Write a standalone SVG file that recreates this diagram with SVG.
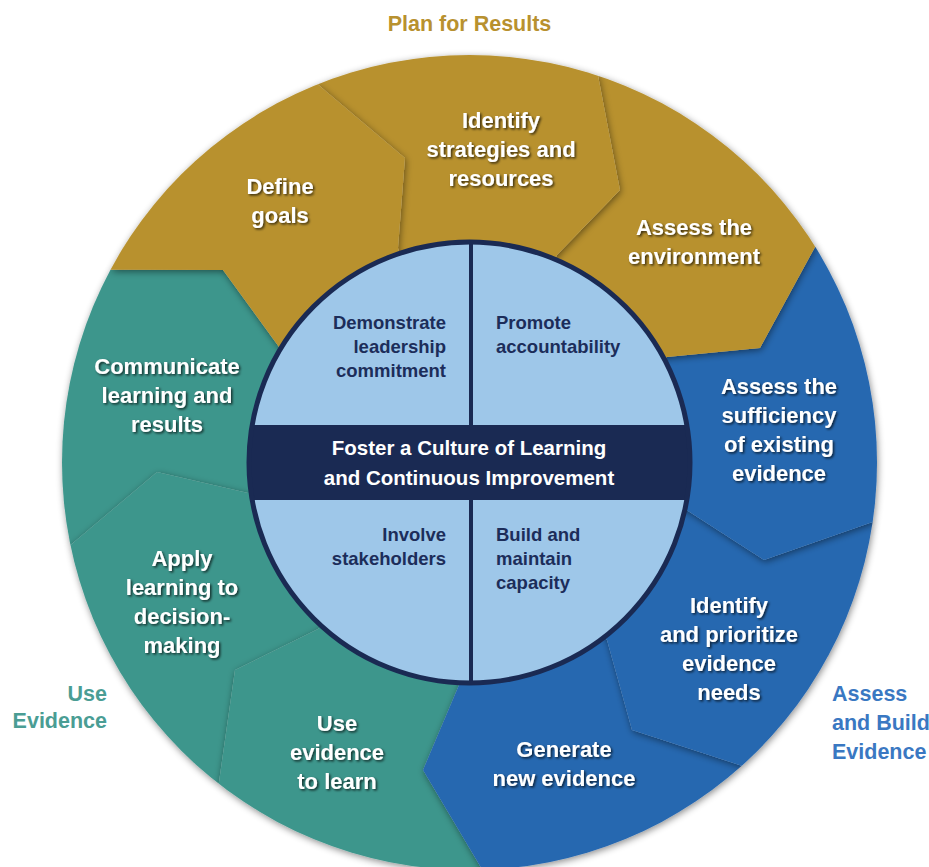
<svg xmlns="http://www.w3.org/2000/svg" width="929" height="867" viewBox="0 0 929 867">
  <style>
    .seg-label { font-family: "Liberation Sans", Arial, sans-serif; font-weight: bold; font-size: 22px; fill: #ffffff; text-anchor: middle; filter: url(#textShadow); }
    .core-label { font-family: "Liberation Sans", Arial, sans-serif; font-weight: bold; font-size: 18.5px; fill: #1c2d5a; }
    .band-label { font-family: "Liberation Sans", Arial, sans-serif; font-weight: bold; font-size: 20.5px; fill: #ffffff; text-anchor: middle; }
    .phase-label { font-family: "Liberation Sans", Arial, sans-serif; font-weight: bold; font-size: 21.5px; }
    .gold { fill: #b8912f; }
    .teal { fill: #3e968c; }
    .blue { fill: #2567b0; }
  </style>
  <defs>
    <clipPath id="ring">
      <circle cx="469.5" cy="462.5" r="407.5"/>
    </clipPath>
    <clipPath id="core">
      <circle cx="469.5" cy="462.5" r="220.5"/>
    </clipPath>
    <filter id="segShadow" x="-30%" y="-30%" width="160%" height="160%">
      <feDropShadow dx="1" dy="2" stdDeviation="3.5" flood-color="#000000" flood-opacity="0.45"/>
    </filter>
    <filter id="textShadow" x="-10%" y="-30%" width="120%" height="160%">
      <feDropShadow dx="1.5" dy="1.5" stdDeviation="1" flood-color="#000000" flood-opacity="0.7"/>
    </filter>
  </defs>

  <!-- phase titles -->
  <text class="phase-label" x="469.5" y="31" text-anchor="middle" fill="#b8912f" font-size="22">Plan for Results</text>
  <text class="phase-label" x="107" y="701" text-anchor="end" fill="#4a9d94">Use</text>
  <text class="phase-label" x="107" y="728" text-anchor="end" fill="#4a9d94">Evidence</text>
  <text class="phase-label" x="832" y="701" fill="#3a78c2">Assess</text>
  <text class="phase-label" x="832" y="730" fill="#3a78c2">and Build</text>
  <text class="phase-label" x="832" y="759" fill="#3a78c2">Evidence</text>

  <!-- outer ring segments, lowest first; each one casts a soft shadow on the one beneath -->
  <g id="communicate" filter="url(#segShadow)">
    <path class="teal" clip-path="url(#ring)" d="M469.5 462.5 L248 493 L157 472 L70.5 545.1 L-118 584.1 L-59.2 178.6 L110.4 269.7 L223 270 L279 347 Z"/>
  </g>
  <g id="apply" filter="url(#segShadow)">
    <path class="teal" clip-path="url(#ring)" d="M469.5 462.5 L318 629 L235 670 L218.8 783.5 L100.4 935.1 L-118 584.1 L70.5 545.1 L157 472 L248 493 Z"/>
  </g>
  <g id="use-evidence" filter="url(#segShadow)">
    <path class="teal" clip-path="url(#ring)" d="M469.5 462.5 L459 685 L423 770 L482 869.3 L487.9 1061.5 L100.4 935.1 L218.8 783.5 L235 670 L318 629 Z"/>
  </g>
  <g id="generate" filter="url(#segShadow)">
    <path class="blue" clip-path="url(#ring)" d="M469.5 462.5 L607 640 L632 730 L741.7 765.7 L870.3 908.9 L487.9 1061.5 L482 869.3 L423 770 L459 685 Z"/>
  </g>
  <g id="prioritize" filter="url(#segShadow)">
    <path class="blue" clip-path="url(#ring)" d="M469.5 462.5 L688 511 L764 560 L872.6 522.1 L1063 550.3 L870.3 908.9 L741.7 765.7 L632 730 L607 640 Z"/>
  </g>
  <g id="sufficiency" filter="url(#segShadow)">
    <path class="blue" clip-path="url(#ring)" d="M469.5 462.5 L667 357 L760 348 L815.2 246.8 L978.5 144.9 L1063 550.3 L872.6 522.1 L764 560 L688 511 Z"/>
  </g>
  <g id="environment" filter="url(#segShadow)">
    <path class="gold" clip-path="url(#ring)" d="M469.5 462.5 L557 255 L620 190 L598.1 75.9 L658.8 -106.7 L978.5 144.9 L815.2 246.8 L760 348 L667 357 Z"/>
  </g>
  <g id="strategies" filter="url(#segShadow)">
    <path class="gold" clip-path="url(#ring)" d="M469.5 462.5 L398 248 L405 158 L317.7 84.3 L246 -94.4 L658.8 -106.7 L598.1 75.9 L620 190 L557 255 Z"/>
  </g>
  <g id="goals" filter="url(#segShadow)">
    <path class="gold" clip-path="url(#ring)" d="M469.5 462.5 L279 347 L223 270 L110.4 269.7 L-59.2 178.6 L246 -94.4 L317.7 84.3 L405 158 L398 248 Z"/>
  </g>

  <!-- segment captions -->
  <g id="goals-text">
    <text class="seg-label" x="280" y="194">Define</text>
    <text class="seg-label" x="280" y="223">goals</text>
  </g>
  <g id="strategies-text">
    <text class="seg-label" x="501" y="128">Identify</text>
    <text class="seg-label" x="501" y="157">strategies and</text>
    <text class="seg-label" x="501" y="186">resources</text>
  </g>
  <g id="environment-text">
    <text class="seg-label" x="694" y="235">Assess the</text>
    <text class="seg-label" x="694" y="264">environment</text>
  </g>
  <g id="sufficiency-text">
    <text class="seg-label" x="779" y="394">Assess the</text>
    <text class="seg-label" x="779" y="423">sufficiency</text>
    <text class="seg-label" x="779" y="452">of existing</text>
    <text class="seg-label" x="779" y="481">evidence</text>
  </g>
  <g id="prioritize-text">
    <text class="seg-label" x="729" y="613">Identify</text>
    <text class="seg-label" x="729" y="642">and prioritize</text>
    <text class="seg-label" x="729" y="671">evidence</text>
    <text class="seg-label" x="729" y="700">needs</text>
  </g>
  <g id="generate-text">
    <text class="seg-label" x="564" y="757">Generate</text>
    <text class="seg-label" x="564" y="786">new evidence</text>
  </g>
  <g id="use-evidence-text">
    <text class="seg-label" x="337" y="731">Use</text>
    <text class="seg-label" x="337" y="760">evidence</text>
    <text class="seg-label" x="337" y="789">to learn</text>
  </g>
  <g id="apply-text">
    <text class="seg-label" x="182" y="566">Apply</text>
    <text class="seg-label" x="182" y="595">learning to</text>
    <text class="seg-label" x="182" y="624">decision-</text>
    <text class="seg-label" x="182" y="653">making</text>
  </g>
  <g id="communicate-text">
    <text class="seg-label" x="167" y="374">Communicate</text>
    <text class="seg-label" x="167" y="403">learning and</text>
    <text class="seg-label" x="167" y="432">results</text>
  </g>

  <!-- central disc with its four quadrants and the banner -->
  <g id="core">
    <circle cx="469.5" cy="462.5" r="220.5" fill="#9ec7e9"/>
    <g clip-path="url(#core)">
      <line x1="471" y1="230" x2="471" y2="700" stroke="#1a2a53" stroke-width="4"/>
      <rect x="240" y="425" width="460" height="75" fill="#1a2a53"/>
    </g>
    <circle cx="469.5" cy="462.5" r="220.5" fill="none" stroke="#1a2a53" stroke-width="5"/>
  </g>
  <g id="banner">
    <text class="band-label" x="469" y="455">Foster a Culture of Learning</text>
    <text class="band-label" x="469" y="485">and Continuous Improvement</text>
  </g>
  <g id="leadership">
    <text class="core-label" x="446" y="329" text-anchor="end">Demonstrate</text>
    <text class="core-label" x="446" y="353" text-anchor="end">leadership</text>
    <text class="core-label" x="446" y="377" text-anchor="end">commitment</text>
  </g>
  <g id="accountability">
    <text class="core-label" x="496" y="329">Promote</text>
    <text class="core-label" x="496" y="353">accountability</text>
  </g>
  <g id="stakeholders">
    <text class="core-label" x="446" y="541" text-anchor="end">Involve</text>
    <text class="core-label" x="446" y="565" text-anchor="end">stakeholders</text>
  </g>
  <g id="capacity">
    <text class="core-label" x="496" y="541">Build and</text>
    <text class="core-label" x="496" y="565">maintain</text>
    <text class="core-label" x="496" y="589">capacity</text>
  </g>
</svg>
